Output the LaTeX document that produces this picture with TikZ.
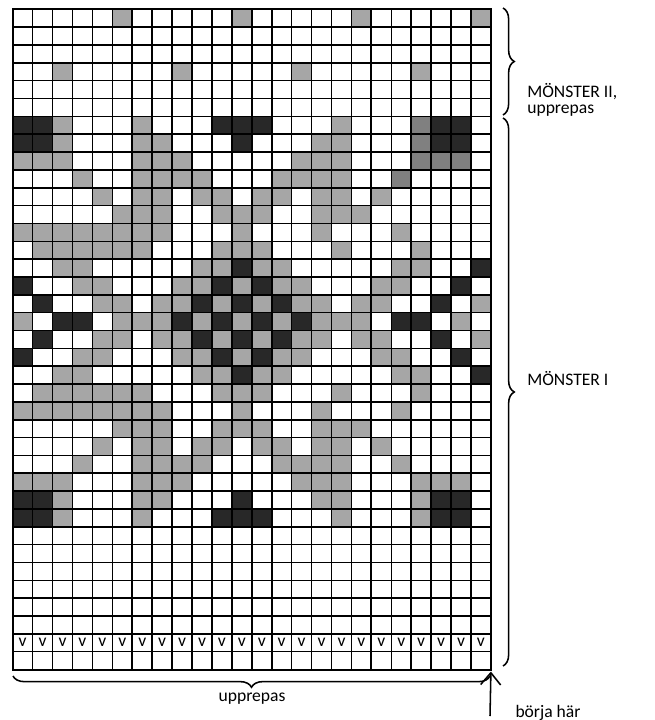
\documentclass[tikz,border=0pt]{standalone}
\usepackage{fontspec}
\setsansfont{Carlito}
\usetikzlibrary{arrows.meta,positioning,calc,decorations.pathreplacing}
\definecolor{lt}{HTML}{A6A6A6}
\definecolor{md}{HTML}{808080}
\definecolor{dk}{HTML}{282828}

\begin{document}
\begin{tikzpicture}[x=0.025cm,y=-0.025cm,
    gridln/.style={line width=1.1pt},
    lbl/.style={font=\sffamily\fontsize{12.5}{11.5}\selectfont,inner sep=0pt,align=left},
    vmark/.style={font=\sffamily\fontsize{12.5}{12}\selectfont,inner sep=0pt},
    brc/.style={decorate,decoration={brace,amplitude=8pt},line width=1.1pt},
    arr/.style={-{Straight Barb[length=3mm,width=5mm]},line width=1.1pt},
]
\useasboundingbox (0,0) rectangle (654,720);

% Chart: 24 stitches x 37 rows
\begin{scope}[xshift=0.3175cm,yshift=-0.2325cm,x=0.498cm,y=-0.446cm]
% light grey
\foreach \r/\cl in {1/{6,12,18,24},4/{3,9,15,21},7/{3,7,17},8/{3,7,8,16,17},
    9/{1,2,3,7,8,9,15,16,17},10/{4,7,8,9,10,14,15,16,17},
    11/{5,7,8,10,11,13,14,16,17,19},12/{6,7,8,11,12,13,16,17,18},
    13/{1,...,8,12,16,...,23},14/{2,...,7,11,12,13,17,...,22},
    15/{3,4,10,11,13,14,20,21},16/{4,5,9,10,12,14,15,19,20},
    17/{5,6,8,9,11,13,15,16,18,19,24},18/{1,6,7,8,10,12,14,16,17,18,23},
    19/{5,6,8,9,11,13,15,16,18,19,24},20/{4,5,9,10,12,14,15,19,20},
    21/{3,4,10,11,13,14,20,21},22/{2,...,7,11,12,13,17,...,22},
    23/{1,...,8,12,16,...,23},24/{6,7,8,11,12,13,16,17,18},
    25/{5,7,8,10,11,13,14,16,17,19},26/{4,7,8,9,10,14,15,16,17,20},
    27/{1,2,3,7,8,9,15,16,17,21,22,23},28/{3,7,8,16,17,21},29/{3,7,17,21}}
  \foreach \c in \cl \fill[lt] (\c-1,\r-1) rectangle (\c,\r);
% mid grey
\foreach \r/\cl in {7/{21},8/{21},9/{21,22,23},10/{20}}
  \foreach \c in \cl \fill[md] (\c-1,\r-1) rectangle (\c,\r);
% dark
\foreach \r/\cl in {7/{1,2,11,12,13,22,23},8/{1,2,12,22,23},15/{12,24},
    16/{1,11,13,23},17/{2,10,12,14,22},18/{3,4,9,11,13,15,20,21},
    19/{2,10,12,14,22},20/{1,11,13,23},21/{12,24},
    28/{1,2,12,22,23},29/{1,2,11,12,13,22,23}}
  \foreach \c in \cl \fill[dk] (\c-1,\r-1) rectangle (\c,\r);

% grid lines
\foreach \c in {1,...,23} \draw[gridln] (\c,0) -- (\c,37);
\foreach \r in {1,...,36} \draw[gridln] (0,\r) -- (24,\r);
\foreach \c in {6,11,18} \draw[line width=1.6pt] (\c,0) -- (\c,37);
\draw[line width=1.4pt] (0,0) rectangle (24,37);

% slip row
\foreach \c in {1,...,24} \node[vmark] (v\c) at (\c-0.5,35.45) {v};

\coordinate (gnw) at (0,0);
\coordinate (gsw) at (0,37);
\coordinate (gse) at (24,37);
\end{scope}

% Braces
\coordinate (b2a) at (503,8);
\coordinate (b2b) at (503,115);
\coordinate (b1a) at (503,118);
\coordinate (b1b) at (503,666);
\coordinate (bra) at (490,676);
\coordinate (brb) at (13,676);
\draw[brc] (b2a) -- (b2b);
\draw[brc] (b1a) -- (b1b);
\draw[brc] (bra) -- (brb);

% Labels
\node[lbl,anchor=west] (m2lbl) at (527,100) {MÖNSTER II,\\upprepas};
\node[lbl,anchor=west] (m1lbl) at (527,379) {MÖNSTER I};
\node[lbl] (rep) at (252,699) {upprepas};
\node[lbl] (start) at (548,713) {börja här};

% Start arrow
\coordinate (arrfoot) at (490,716);
\draw[arr] (arrfoot) -- ($(gse)+(0,2)$);
\end{tikzpicture}
\end{document}
